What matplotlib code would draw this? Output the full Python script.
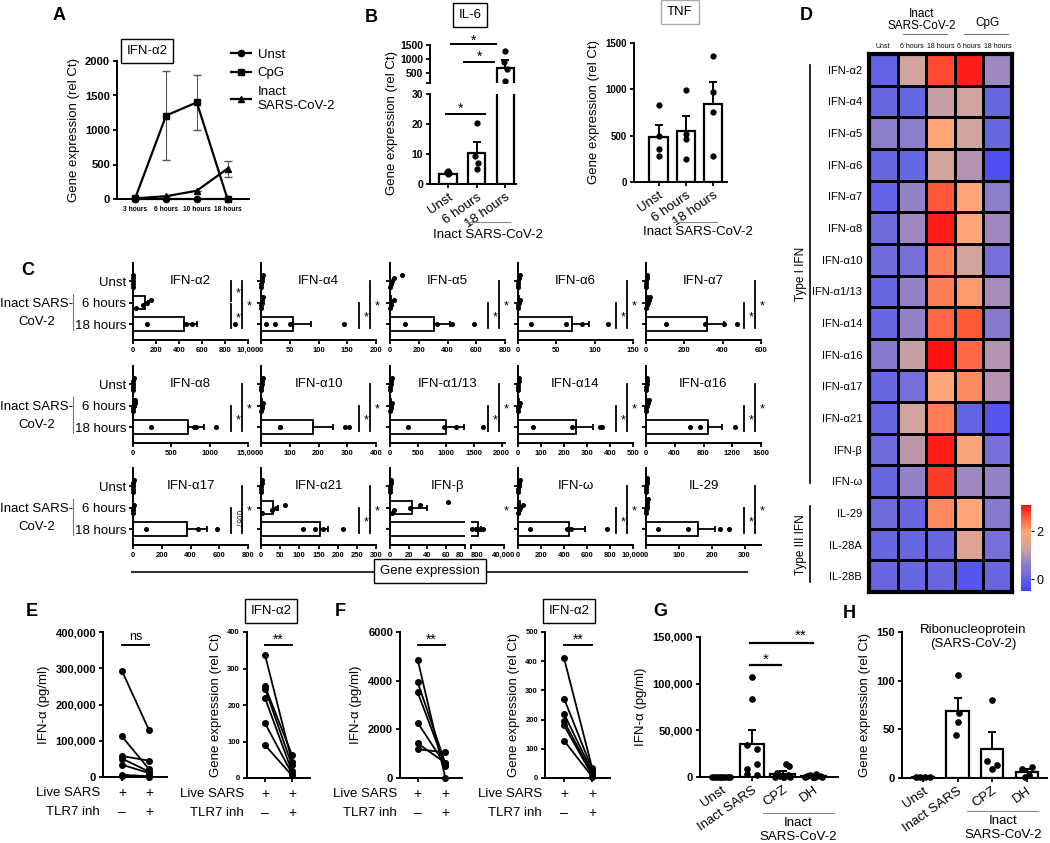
import numpy as np
import matplotlib
matplotlib.use('Agg')
import matplotlib.pyplot as plt
import matplotlib.transforms as mtrans
from matplotlib.colors import LinearSegmentedColormap
from matplotlib.lines import Line2D

W, H = 1050, 843

# ---------------- data ----------------
# A: IFN-a2 time course
a_times = ['3 hours', '6 hours', '10 hours', '18 hours']
a_unst = [5, 5, 5, 5]
a_cpg = [20, 1210, 1400, 0]
a_cpg_err = [0, 640, 400, 0]
a_inact = [10, 40, 120, 440]
a_inact_err = [0, 0, 0, 115]

# B: IL-6 and TNF
b_groups = ['Unst', '6 hours', '18 hours']
il6_mean = [3.5, 10.5, 690]
il6_sem = [0.3, 3.6, 260]
il6_pts = [[4.2, 4.0, 3.8, 3.4], [20.5, 9.5, 7.0, 5.0], [1290, 880, 650, 200]]
tnf_mean = [490, 555, 845]
tnf_sem = [125, 160, 230]
tnf_pts = [[830, 500, 360, 280], [990, 460, 250, 520], [1360, 970, 760, 280]]

# C: gene expression per IFN gene
c_genes = ['IFN-α2', 'IFN-α4', 'IFN-α5', 'IFN-α6', 'IFN-α7',
           'IFN-α8', 'IFN-α10', 'IFN-α1/13', 'IFN-α14', 'IFN-α16',
           'IFN-α17', 'IFN-α21', 'IFN-β', 'IFN-ω', 'IL-29']
c_xmax = [1000, 200, 800, 150, 600, 1500, 400, 2060, 500, 1600, 800, 300, 80.5, 1000, 350]
c_ticks = [[0, 200, 400, 600, 800, 1000], [0, 50, 100, 150, 200], [0, 200, 400, 600, 800],
           [0, 50, 100, 150], [0, 200, 400, 600],
           [0, 500, 1000, 1500], [0, 100, 200, 300, 400], [0, 500, 1000, 1500, 2000],
           [0, 100, 200, 300, 400, 500], [0, 400, 800, 1200, 1600],
           [0, 200, 400, 600, 800], [0, 50, 100, 150, 200, 250, 300], [0, 20, 40, 60, 80],
           [0, 200, 400, 600, 800, 1000], [0, 100, 200, 300]]
c_last_label = {0: '10,000', 5: '15,000', 13: '10,000'}
c_unst_pts = [[0, 0, 0, 0, 0], [0, 0, 1, 2, 4], [0, 5, 15, 30, 85], [0, 0, 0, 1, 2], [0, 0, 2, 4, 6],
              [0, 0, 2, 4, 8], [0, 0, 2, 4, 6], [0, 5, 10, 20, 30], [0, 0, 2, 4, 6], [0, 5, 10, 15, 20],
              [0, 0, 1, 2, 4], [0, 0, 1, 2, 3], [0, 0, 0, 1, 1], [0, 2, 5, 10, 15], [0, 0, 1, 2, 3, 4]]
c_6h_mean = [100, 1, 10, 1, 10, 13, 3, 17, 3, 17, 2, 32, 24, 16, 2]
c_6h_sem = [30, 1, 5, 0.5, 4, 5, 1.5, 8, 1.5, 8, 1, 13, 16, 10, 1]
c_6h_pts = [[30, 90, 120, 160], [0, 0, 1, 2, 3], [0, 5, 10, 25], [0, 0, 1, 2], [0, 5, 10, 15, 20],
            [0, 5, 10, 20, 30], [0, 2, 4, 8], [0, 10, 20, 40], [0, 2, 4, 8], [0, 5, 10, 30, 40],
            [0, 1, 2, 4], [3, 29, 38, 63], [2, 4, 21, 32, 62], [0, 5, 15, 45], [0, 1, 2, 3, 4, 5]]
c_18h_mean = [440, 56, 305, 70, 320, 717, 180, 1010, 253, 860, 376, 153, 9000, 445, 158]
c_18h_sem = [120, 31, 115, 22, 88, 205, 71, 310, 72, 195, 140, 22, 3500, 135, 51]
c_18h_pts = [[120, 460, 510, 890], [8, 25, 50, 145], [105, 330, 430, 585], [17, 63, 84, 118], [104, 310, 405, 473],
             [230, 790, 826, 1087], [66, 66, 292, 307], [318, 960, 1175, 1664], [65, 235, 355, 365], [615, 753, 1240],
             [88, 452, 587], [109, 141, 162, 214], [2000, 7000, 9700, 15500], [106, 428, 460, 772], [37, 128, 224, 252]]
c_sig = ['two', 'std', 'std', 'std', 'std', 'std', 'std', 'std', 'std', 'std',
         'p', 'std', 'two', 'std', 'std']
c_pval = '0.057'
beta_hi_ticks = [800, 40000]
beta_hi_labels = ['800', '40,000']

# D: heatmap
hm_rows = ['IFN-α2', 'IFN-α4', 'IFN-α5', 'IFN-α6', 'IFN-α7', 'IFN-α8', 'IFN-α10', 'IFN-α1/13',
           'IFN-α14', 'IFN-α16', 'IFN-α17', 'IFN-α21', 'IFN-β', 'IFN-ω', 'IL-29', 'IL-28A', 'IL-28B']
hm_cols = ['Unst', '6 hours', '18 hours', '6 hours', '18 hours']
hm_vals = [[0.0, 1.3, 2.7, 3.0, 0.8],
           [0.1, 0.1, 1.2, 1.3, 0.1],
           [0.6, 0.6, 2.0, 1.3, 0.1],
           [0.1, 0.1, 1.3, 1.0, -0.3],
           [0.0, 0.7, 2.6, 2.0, 0.6],
           [0.2, 0.8, 3.0, 2.0, 0.8],
           [0.2, 0.3, 2.3, 1.3, 0.3],
           [0.1, 0.7, 2.3, 2.1, 0.9],
           [0.1, 0.7, 2.5, 2.6, 0.5],
           [0.5, 1.2, 3.1, 2.5, 1.0],
           [0.1, 0.3, 2.0, 2.2, 1.0],
           [0.1, 1.3, 2.3, 0.0, -0.2],
           [0.2, 1.1, 3.0, 1.9, 0.3],
           [0.1, 0.7, 2.8, 0.8, 0.7],
           [0.2, 0.1, 2.2, 2.0, 0.5],
           [0.1, 0.1, 0.1, 1.5, 0.3],
           [0.1, 0.1, 0.1, -0.2, 0.1]]

# E, F: paired TLR7 inhibitor data
e1_before = [293000, 112000, 58000, 51000, 34000, 6000, 4000]
e1_after = [130000, 22000, 45000, 15000, 11000, 2000, 1000]
e2_before = [337, 251, 245, 219, 150, 90]
e2_after = [45, 63, 35, 18, 12, 7]
f1_before = [4850, 3930, 3520, 2270, 1420, 1180]
f1_after = [0, 600, 500, 530, 620, 1055]
f2_before = [410, 272, 220, 194, 180, 128]
f2_after = [35, 30, 22, 15, 10, 5]

# G, H: inhibitors
gh_groups = ['Unst', 'Inact SARS', 'CPZ', 'DH']
g_mean = [500, 35500, 3500, 1000]
g_sem = [200, 14500, 2500, 600]
g_pts = [[0, 0, 0, 0, 0, 0, 0, 0],
         [107000, 84000, 34000, 30000, 14000, 9000, 3000, 2000],
         [14000, 12000, 4000, 2000, 1000, 500, 0, 0],
         [3000, 2000, 1500, 1000, 500, 0, 0, 0]]
h_mean = [1, 69, 30, 6]
h_sem = [0.3, 13, 17, 3]
h_pts = [[1, 1, 1, 1], [106, 67, 58, 44], [80, 17, 13, 9], [11, 9, 3, 1]]

# ---------------- style ----------------
plt.rcParams['font.family'] = ['Liberation Sans', 'DejaVu Sans']
plt.rcParams['axes.linewidth'] = 1.4
plt.rcParams['xtick.major.width'] = 1.3
plt.rcParams['ytick.major.width'] = 1.3
plt.rcParams['xtick.major.size'] = 3
plt.rcParams['ytick.major.size'] = 3
plt.rcParams['xtick.major.pad'] = 2
plt.rcParams['ytick.major.pad'] = 2

fig = plt.figure(figsize=(W / 100, H / 100), dpi=100)


def add_ax(x0, y0, x1, y1):
    return fig.add_axes([x0 / W, 1 - y1 / H, (x1 - x0) / W, (y1 - y0) / H])


def ftext(x, y, s, **kw):
    return fig.text(x / W, 1 - y / H, s, **kw)


def fline(xs, ys, lw=1.2, color='black'):
    fig.add_artist(Line2D([x / W for x in xs], [1 - y / H for y in ys], color=color, lw=lw))


def clean(ax):
    ax.spines['top'].set_visible(False)
    ax.spines['right'].set_visible(False)


def box_text(x, y, s, ec='black', fs=9.5):
    ftext(x, y, s, ha='center', va='center', fontsize=fs,
          bbox=dict(boxstyle='square,pad=0.45', fc='white', ec=ec, lw=1.0))


def star(ax, x, y, s, fs=10, transform=None):
    tr = transform if transform is not None else ax.transData
    if set(s) == {'*'}:
        tr = mtrans.offset_copy(tr, fig=fig, y=-0.58 * fs, units='points')
        ax.text(x, y, s, transform=tr, ha='center', va='baseline', fontsize=fs, clip_on=False)
    else:
        ax.text(x, y, s, transform=tr, ha='center', va='center', fontsize=fs, clip_on=False)


def hline(ax, x0, x1, y, lw=1.4):
    ax.plot([x0, x1], [y, y], color='black', lw=lw, clip_on=False)


def letter(x, y, s):
    ftext(x, y, s, ha='center', va='center', fontsize=13, fontweight='bold')


# ---------------- A ----------------
letter(59, 16, 'A')
axA = add_ax(117, 61, 249, 199)
ax_x = np.arange(len(a_times))
axA.errorbar(ax_x, a_cpg, yerr=a_cpg_err, fmt='none', ecolor='#555555', elinewidth=0.8, capsize=3, clip_on=False)
axA.errorbar(ax_x, a_inact, yerr=a_inact_err, fmt='none', ecolor='#555555', elinewidth=0.8, capsize=3, clip_on=False)
axA.plot(ax_x, a_unst, '-o', color='black', lw=1.6, ms=4.5, clip_on=False, zorder=4)
axA.plot(ax_x, a_cpg, '-s', color='black', lw=1.6, ms=4.5, clip_on=False, zorder=4)
axA.plot(ax_x, a_inact, '-^', color='black', lw=1.6, ms=4.5, clip_on=False, zorder=4)
axA.set_xlim(-0.6, 3.7)
axA.set_ylim(0, 2000)
axA.set_yticks([0, 500, 1000, 1500, 2000], ['0', '500', '1000', '1500', '2000'], fontsize=8, fontweight='bold')
axA.set_xticks(ax_x, a_times, fontsize=4.8, fontweight='bold')
axA.set_ylabel('Gene expression (rel Ct)', fontsize=9.5)
clean(axA)
box_text(147, 51, 'IFN-α2')
handles = [Line2D([], [], color='black', marker=m, lw=1.6, ms=4.5) for m in ('o', 's', '^')]
fig.legend(handles, ['Unst', 'CpG', 'Inact\nSARS-CoV-2'], loc='upper left',
           bbox_to_anchor=(226 / W, 1 - 43 / H), frameon=False, fontsize=9.5,
           handlelength=1.5, handletextpad=0.5, labelspacing=0.5, borderaxespad=0)

# ---------------- B ----------------
letter(371, 18, 'B')
bx = np.arange(3)
pt_off = [0, -0.05, 0.05, 0]
lo = add_ax(430, 94, 516, 184)
hi = add_ax(430, 45, 516, 83)
lo.bar(bx, il6_mean, width=0.6, color='white', edgecolor='black', lw=1.6, zorder=2)
lo.errorbar(bx, il6_mean, yerr=[np.zeros(3), il6_sem], fmt='none', ecolor='black',
            elinewidth=1.4, capsize=3, capthick=1.4, zorder=3)
for k in range(3):
    lo.plot(bx[k] + np.array(pt_off[:len(il6_pts[k])]), il6_pts[k], 'o', color='black', ms=3.5, zorder=4)
# upper segment of the broken axis only holds the 18 hours group
hi.bar(bx[2], il6_mean[2], width=0.6, color='white', edgecolor='black', lw=1.6, zorder=2)
hi.errorbar(bx[2], il6_mean[2], yerr=[[0], [il6_sem[2]]], fmt='none', ecolor='black',
            elinewidth=1.4, capsize=3, capthick=1.4, zorder=3)
hi.plot(bx[2] + np.array(pt_off), il6_pts[2], 'o', color='black', ms=3.5, zorder=4)
for a in (lo, hi):
    a.set_xlim(-0.63, 2.38)
    clean(a)
lo.set_ylim(0, 30)
lo.set_yticks([0, 10, 20, 30], ['0', '10', '20', '30'], fontsize=7.5, fontweight='bold')
hi.set_ylim(143, 1500)
hi.set_yticks([143, 500, 1000, 1500], ['', '500', '1000', '1500'], fontsize=7.5, fontweight='bold')
hi.spines['bottom'].set_visible(False)
hi.set_xticks([])
lo.set_xticks(bx, b_groups, rotation=35, ha='right', rotation_mode='anchor', fontsize=9.5)
ftext(392, 123, 'Gene expression (rel Ct)', rotation=90, ha='center', va='center', fontsize=9.5)
hline(lo, -0.07, 1.29, 23.3)
star(lo, 0.45, 26.3, '*')
hline(hi, 0.1, 1.68, 1540)
star(hi, 0.88, 1786, '*')
hline(hi, 0.57, 1.6, 893)
star(hi, 1.09, 1214, '*')
box_text(470, 15, 'IL-6')
fline([466, 510], [222, 222], lw=0.8, color='#888888')
ftext(488, 235, 'Inact SARS-CoV-2', ha='center', va='center', fontsize=9.5)

axT = add_ax(634, 43, 727, 182)
axT.bar(bx, tnf_mean, width=0.67, color='white', edgecolor='black', lw=1.6, zorder=2)
axT.errorbar(bx, tnf_mean, yerr=[np.zeros(3), tnf_sem], fmt='none', ecolor='black',
             elinewidth=1.4, capsize=3, capthick=1.4, zorder=3)
for k in range(3):
    axT.plot(np.full(len(tnf_pts[k]), bx[k]), tnf_pts[k], 'o', color='black', ms=3.5, zorder=4)
axT.set_xlim(-0.9, 2.5)
axT.set_ylim(0, 1500)
axT.set_yticks([0, 500, 1000, 1500], ['0', '500', '1000', '1500'], fontsize=7, fontweight='bold')
axT.set_xticks(bx, b_groups, rotation=35, ha='right', rotation_mode='anchor', fontsize=9.5)
axT.set_ylabel('Gene expression (rel Ct)', fontsize=9.5)
clean(axT)
box_text(680, 12, 'TNF', ec='#aaaaaa')
fline([673, 717], [222, 222], lw=0.8, color='#888888')
ftext(698, 232, 'Inact SARS-CoV-2', ha='center', va='center', fontsize=9.5)

# ---------------- C ----------------
letter(28, 270, 'C')
c_x0 = [133, 261, 390, 518, 646]
c_bot = [340, 443, 545]
c_w, c_h = 115, 77
near0 = [-0.26, -0.13, 0.0, 0.13, 0.26, 0.39]
c_frac = {'inner': 0.85, 'outer': 0.945}

for i, gene in enumerate(c_genes):
    r, c = divmod(i, 5)
    x0 = c_x0[c]
    bot = c_bot[r]
    top = bot - c_h
    if gene == 'IFN-β':
        ax = add_ax(x0, top, x0 + 75, bot)
        ax2 = add_ax(x0 + 81, top, x0 + 114, bot)
        ax2.set_xlim(800, 40000)
        axes = [ax, ax2]
    else:
        ax = add_ax(x0, top, x0 + c_w, bot)
        axes = [ax]
    ax.set_xlim(0, c_xmax[i])
    for a in axes:
        lo_x, hi_x = a.get_xlim()
        a.barh([1, 0], [c_6h_mean[i], c_18h_mean[i]], height=0.62, color='white',
               edgecolor='black', lw=1.3, zorder=2)
        a.errorbar([c_6h_mean[i], c_18h_mean[i]], [1, 0],
                   xerr=[[0, 0], [c_6h_sem[i], c_18h_sem[i]]], fmt='none', ecolor='black',
                   elinewidth=1.3, capsize=2.5, capthick=1.3, zorder=3)
        for yc, vals, spread in ((2, c_unst_pts[i], True), (1, c_6h_pts[i], True), (0, c_18h_pts[i], False)):
            for j, v in enumerate(vals):
                if lo_x - 1 <= v <= hi_x:
                    yy = yc + (near0[j] if spread else 0)
                    a.plot(v, yy, 'o', color='black', ms=2.6, clip_on=False, zorder=4)
        a.set_ylim(-0.74, 2.84)
        clean(a)
        a.tick_params(axis='x', labelsize=5.5)
    labels = [str(t) for t in c_ticks[i]]
    if i in c_last_label:
        labels[-1] = c_last_label[i]
    ax.set_xticks(c_ticks[i], labels, fontweight='bold')
    if c == 0:
        ax.set_yticks([0, 1, 2], ['18 hours', '6 hours', 'Unst'], fontsize=9.5)
    else:
        ax.set_yticks([0, 1, 2], ['', '', ''])
    if gene == 'IFN-β':
        ax2.spines['left'].set_visible(False)
        ax2.set_yticks([])
        ax2.set_xticks(beta_hi_ticks, beta_hi_labels, fontweight='bold')
        ax.get_xticklabels()[-1].set_ha('right')
        ax2.get_xticklabels()[0].set_ha('left')
    # gene title and significance brackets
    tr = mtrans.blended_transform_factory(fig.transFigure, ax.transData)
    ax.text((x0 + 0.5 * c_w) / W, 2, gene, transform=tr, ha='center', va='center', fontsize=9.5)
    if c_sig[i] == 'two':
        brackets = [(2, 1.06, 'inner', '*'), (0.94, -0.2, 'inner', '*'), (2, -0.2, 'outer', '*')]
    elif c_sig[i] == 'p':
        brackets = [(1, -0.2, 'inner', c_pval), (2, -0.2, 'outer', '*')]
    else:
        brackets = [(1, -0.2, 'inner', '*'), (2, -0.2, 'outer', '*')]
    for ya, yb, kind, lab in brackets:
        xf = (x0 + c_frac[kind] * c_w) / W
        ax.plot([xf, xf], [ya, yb], transform=tr, color='black', lw=1.3, clip_on=False)
        ymid = (ya + yb) / 2 + 0.1
        if lab == c_pval:
            ax.text(xf + 6 / W, ymid, lab, transform=tr, ha='center', va='center',
                    fontsize=5, rotation=270, clip_on=False)
        else:
            star(ax, xf + 7 / W, ymid, lab, fs=9, transform=tr)

for bot in c_bot:
    ftext(37, bot - 27, 'Inact SARS-\nCoV-2', ha='center', va='center', fontsize=9.5, linespacing=1.6)
    fline([73, 73], [bot - 46, bot - 10], lw=0.8, color='#777777')

fline([132, 747], [572, 572], lw=1.5, color='#333333')
box_text(430, 571, 'Gene expression', fs=9.5)

# ---------------- D ----------------
letter(806, 16, 'D')
cmap = LinearSegmentedColormap.from_list('hm', [
    (0.0, '#4242ff'), (0.139, '#6262e6'), (0.333, '#9482c6'), (0.5, '#d0a49c'),
    (0.694, '#ffa576'), (0.861, '#ff5a3a'), (1.0, '#ff1010')])
axD = add_ax(869, 54, 1012, 592)
mesh = axD.pcolormesh(np.array(hm_vals), cmap=cmap, vmin=-0.5, vmax=3.1,
                      edgecolors='black', linewidth=1.0)
axD.set_xlim(0, 5)
axD.set_ylim(len(hm_rows), 0)
axD.set_yticks(np.arange(len(hm_rows)) + 0.5, hm_rows, fontsize=8)
axD.xaxis.tick_top()
axD.set_xticks(np.arange(5) + 0.5, hm_cols, fontsize=5)
axD.tick_params(length=0, pad=5)
axD.tick_params(axis='x', pad=3)
for s in axD.spines.values():
    s.set_linewidth(3)
cax = add_ax(1021, 505, 1031, 591)
cb = fig.colorbar(mesh, cax=cax, ticks=[0, 2])
cb.outline.set_visible(False)
cb.ax.tick_params(labelsize=9, length=2, width=0.8)
ftext(922, 20, 'Inact\nSARS-CoV-2', ha='center', va='center', fontsize=8.5, linespacing=1.1)
fline([903, 947], [34, 34], lw=0.8, color='#777777')
ftext(987, 23, 'CpG', ha='center', va='center', fontsize=8.5)
fline([964, 1008], [34, 34], lw=0.8, color='#777777')
fline([810, 810], [65, 483], lw=1.2)
ftext(801, 274, 'Type I IFN', rotation=90, ha='center', va='center', fontsize=8.5)
fline([810, 810], [506, 582], lw=1.2)
ftext(801, 545, 'Type III IFN', rotation=90, ha='center', va='center', fontsize=8.5)


# ---------------- E, F ----------------
def pair_panel(box, before, after, ymax, ticks, tlabels, tfs, ylabel, xl):
    ax = add_ax(*box)
    for b, a in zip(before, after):
        ax.plot([0, 1], [b, a], '-o', color='black', lw=1.3, ms=4, clip_on=False, zorder=3)
    ax.set_xlim(*xl)
    ax.set_ylim(0, ymax)
    ax.set_yticks(ticks, tlabels, fontsize=tfs, fontweight='bold')
    ax.set_xticks([0, 1], ['', ''])
    ax.set_ylabel(ylabel, fontsize=9.5)
    clean(ax)
    trx = ax.get_xaxis_transform()
    for yoff, syms in ((16, ['+', '+']), (35, ['–', '+'])):
        t = trx + mtrans.ScaledTranslation(0, -yoff / 100, fig.dpi_scale_trans)
        for xi, s in enumerate(syms):
            ax.text(xi, 0, s, transform=t, ha='center', va='center', fontsize=10)
    ftext(box[0] - 3, box[3] + 16, 'Live SARS', ha='right', va='center', fontsize=9.5)
    ftext(box[0] - 3, box[3] + 35, 'TLR7 inh', ha='right', va='center', fontsize=9.5)
    return ax


letter(32, 612, 'E')
axE1 = pair_panel((103, 632, 167, 777), e1_before, e1_after, 400000,
                  [0, 100000, 200000, 300000, 400000], ['0', '100,000', '200,000', '300,000', '400,000'],
                  8, 'IFN-α (pg/ml)', (-0.7, 1.67))
hline(axE1, 0, 1, 363600)
axE1.text(0.5, 370000, 'ns', ha='center', va='bottom', fontsize=9)
axE2 = pair_panel((247, 632, 310, 778), e2_before, e2_after, 400,
                  [0, 100, 200, 300, 400], ['0', '100', '200', '300', '400'],
                  5.5, 'Gene expression (rel Ct)', (-0.67, 1.67))
hline(axE2, 0, 1, 364)
star(axE2, 0.5, 389, '**')
box_text(271, 611, 'IFN-α2')

letter(340, 612, 'F')
axF1 = pair_panel((400, 632, 462, 778), f1_before, f1_after, 6000,
                  [0, 2000, 4000, 6000], ['0', '2000', '4000', '6000'],
                  8, 'IFN-α (pg/ml)', (-0.64, 1.6))
hline(axF1, 0, 1, 5460)
star(axF1, 0.5, 5830, '**')
axF2 = pair_panel((545, 632, 610, 778), f2_before, f2_after, 500,
                  [0, 100, 200, 300, 400, 500], ['0', '100', '200', '300', '400', '500'],
                  5.5, 'Gene expression (rel Ct)', (-0.68, 1.64))
hline(axF2, 0, 1, 455)
star(axF2, 0.5, 486, '**')
box_text(569, 611, 'IFN-α2')


# ---------------- G, H ----------------
def bar_panel(box, mean, sem, pts, offs, ymax, ticks, tlabels, width, xl, ylabel):
    ax = add_ax(*box)
    gx = np.arange(len(gh_groups))
    ax.bar(gx, mean, width=width, color='white', edgecolor='black', lw=1.6, zorder=2)
    ax.errorbar(gx, mean, yerr=[np.zeros(len(mean)), sem], fmt='none', ecolor='black',
                elinewidth=1.4, capsize=3, capthick=1.4, zorder=3)
    for k in range(len(gh_groups)):
        n = len(pts[k])
        ax.plot(gx[k] + np.array(offs[k][:n]), pts[k], 'o', color='black', ms=3.8,
                clip_on=False, zorder=4)
    ax.set_xlim(*xl)
    ax.set_ylim(0, ymax)
    ax.set_yticks(ticks, tlabels, fontsize=8, fontweight='bold')
    ax.set_xticks(gx, gh_groups, rotation=35, ha='right', rotation_mode='anchor', fontsize=9.5)
    ax.set_ylabel(ylabel, fontsize=9.5)
    clean(ax)
    return ax


letter(660, 612, 'G')
g_offs = [[-0.3, -0.21, -0.13, -0.04, 0.04, 0.13, 0.21, 0.3],
          [0, 0, -0.17, 0.17, 0.17, -0.17, -0.17, 0.17],
          [0.12, 0.2, -0.17, 0.17, -0.1, 0.05, -0.25, 0.25],
          [0.1, -0.1, 0.2, -0.2, 0.0, -0.28, 0.28, 0.05]]
axG = bar_panel((700, 637, 838, 777), g_mean, g_sem, g_pts, g_offs, 150000,
                [0, 50000, 100000, 150000], ['0', '50,000', '100,000', '150,000'],
                0.8, (-0.69, 3.8), 'IFN-α (pg/ml)')
hline(axG, 0.95, 1.93, 119900, lw=1.6)
star(axG, 1.45, 130600, '*', fs=11)
hline(axG, 0.95, 3.0, 143500, lw=1.6)
star(axG, 2.6, 156300, '**', fs=11)
fline([763, 834], [813, 813], lw=0.8, color='#888888')
ftext(798, 830, 'Inact\nSARS-CoV-2', ha='center', va='center', fontsize=9.5, linespacing=1.15)

letter(849, 614, 'H')
h_offs = [[-0.2, -0.07, 0.07, 0.2],
          [0, 0.05, 0, -0.05],
          [0, -0.15, 0.15, 0],
          [0.15, -0.15, 0.05, -0.05]]
axH = bar_panel((902, 632, 1047, 778), h_mean, h_sem, h_pts, h_offs, 150,
                [0, 50, 100, 150], ['0', '50', '100', '150'],
                0.65, (-0.6, 3.58), 'Gene expression (rel Ct)')
ftext(973, 637, 'Ribonucleoprotein\n(SARS-CoV-2)', ha='center', va='center', fontsize=9.5, linespacing=1.15)
fline([967, 1038], [811, 811], lw=0.8, color='#888888')
ftext(1003, 828, 'Inact\nSARS-CoV-2', ha='center', va='center', fontsize=9.5, linespacing=1.15)

fig.savefig('out.png', dpi=100)
